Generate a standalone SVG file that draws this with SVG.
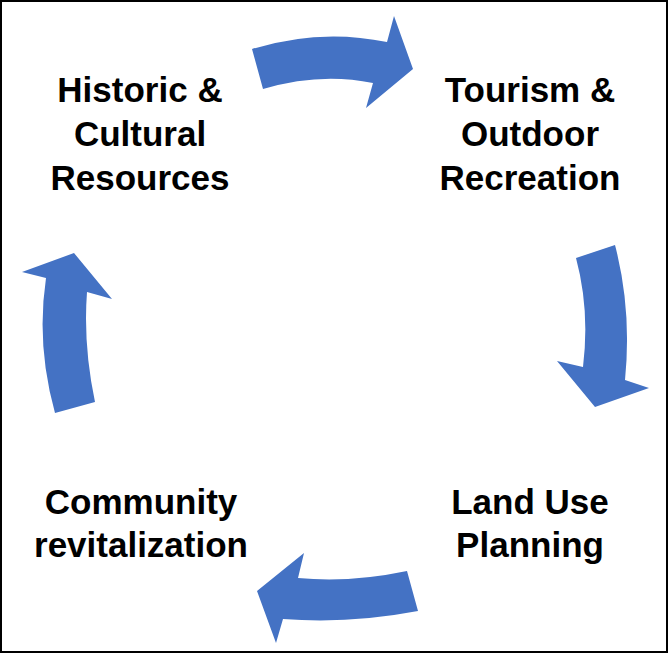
<svg xmlns="http://www.w3.org/2000/svg" width="668" height="653" viewBox="0 0 668 653">
<style>
.lbl{font-family:"Liberation Sans",Arial,sans-serif;font-weight:bold;font-size:35px;fill:#000;text-anchor:middle}
.arr{fill:#4472C4}
</style>
<rect x="1" y="1" width="666" height="651" fill="#fff" stroke="#000" stroke-width="2"/>
<g id="connectors">
<path class="arr" d="M252,49 Q320,28 387,42 L394,16 L413,69 L366,108 L373,83 Q320,72 263,89 Z"/>
<path class="arr" d="M576,258 L615,245 Q632,310 625,380 L649,388 L595,407 L557,361 L583,367 Q590,310 576,258 Z"/>
<path class="arr" d="M407,571 L418,611 Q350,624 283,619 L276,643 L257,591 L304,553 L298,578 Q350,583 407,571 Z"/>
<path class="arr" d="M55,413 L95,402 Q83,345 87,292 L112,299 L74,253 L22,272 L46,278 Q36,345 55,413 Z"/>
</g>
<g id="node-historic"><text class="lbl" x="140" y="102">Historic &amp;</text><text class="lbl" x="140" y="146">Cultural</text><text class="lbl" x="140" y="190">Resources</text></g>
<g id="node-tourism"><text class="lbl" x="530" y="102">Tourism &amp;</text><text class="lbl" x="530" y="146">Outdoor</text><text class="lbl" x="530" y="190">Recreation</text></g>
<g id="node-landuse"><text class="lbl" x="530" y="514">Land Use</text><text class="lbl" x="530" y="557">Planning</text></g>
<g id="node-community"><text class="lbl" x="141" y="514">Community</text><text class="lbl" x="141" y="557">revitalization</text></g>
</svg>
